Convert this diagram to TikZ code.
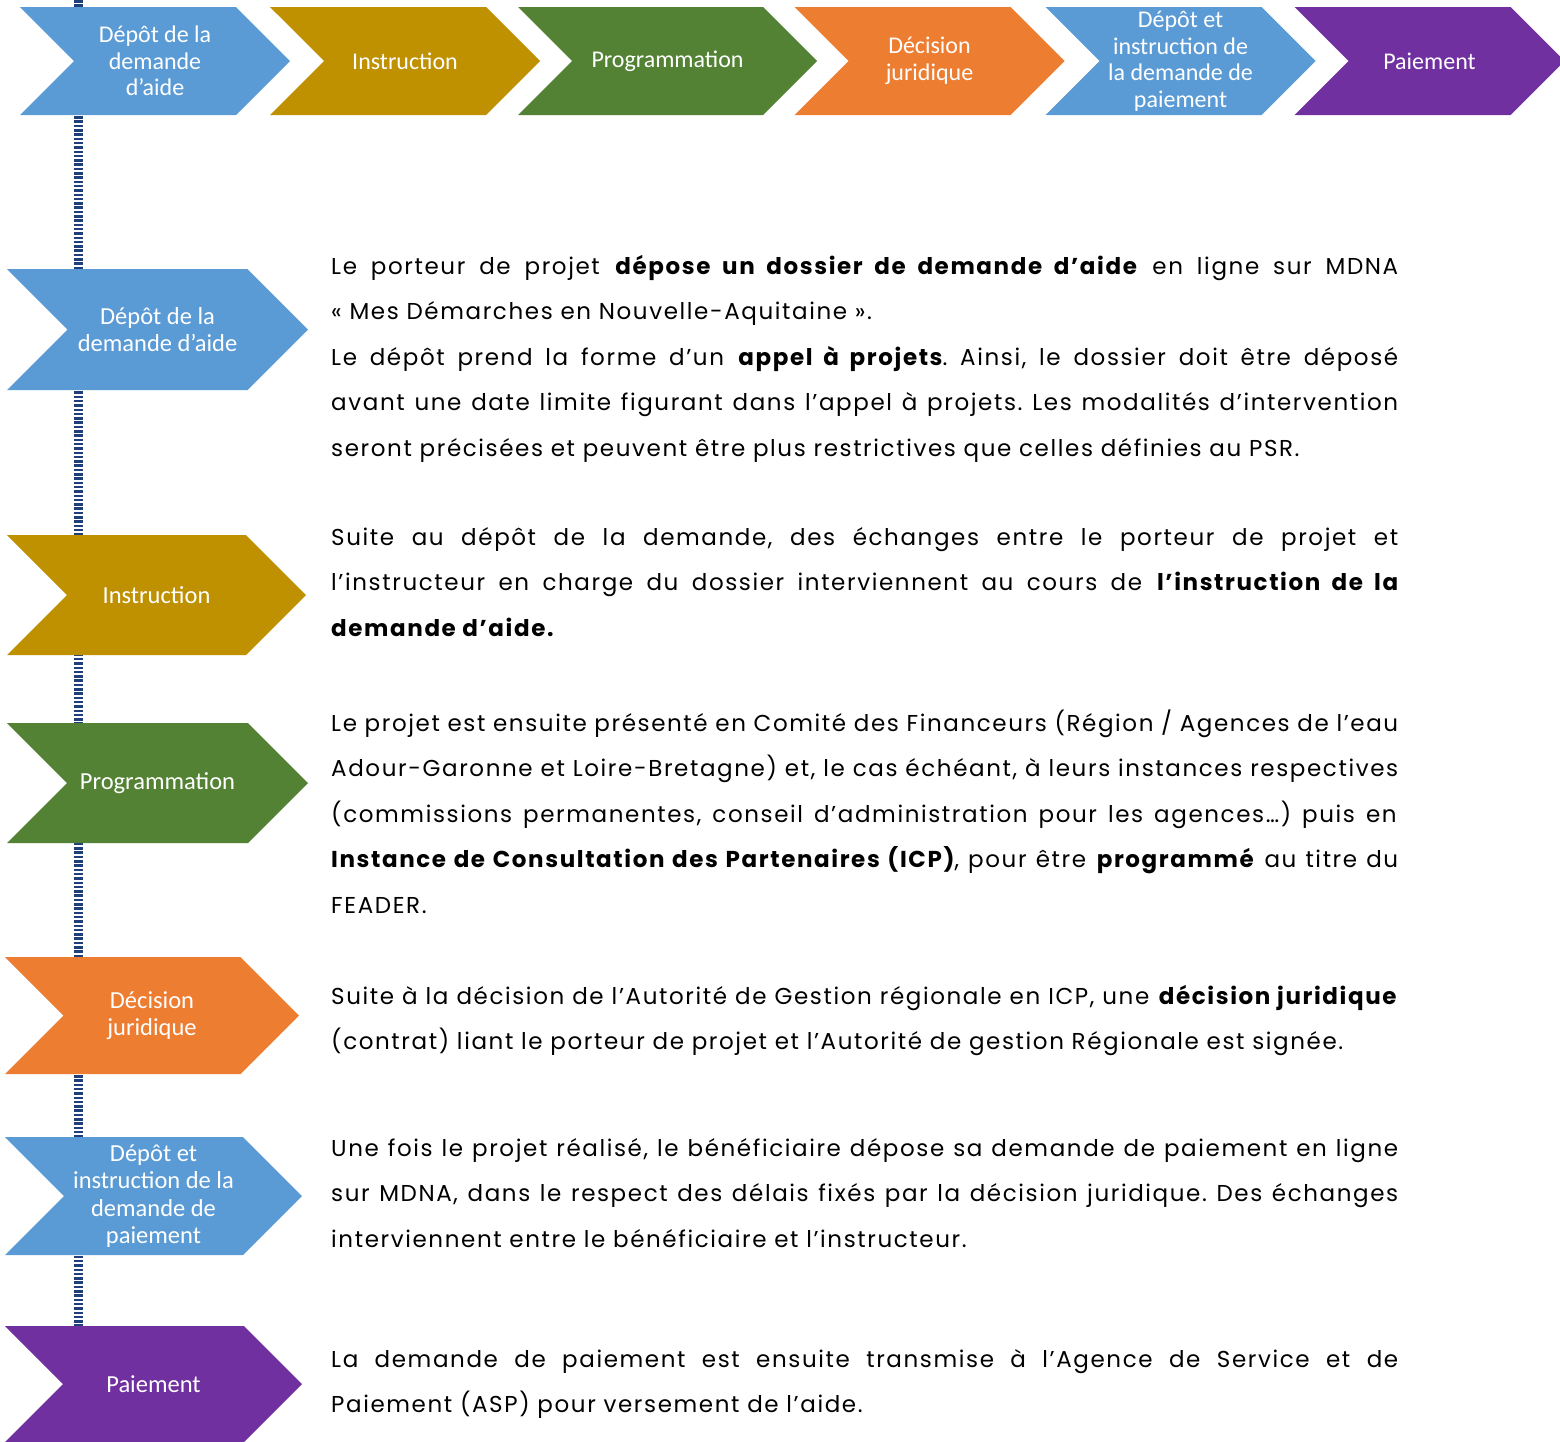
\documentclass[tikz,border=0pt]{standalone}
\usepackage{fontspec}
\setmainfont{Poppins}[LetterSpace=7, WordSpace={1,1,1.6}]
\newfontfamily\labelfont{Carlito}
\usepackage{xcolor}
\usetikzlibrary{shapes.symbols,positioning}

\definecolor{stepblue}{RGB}{91,155,213}
\definecolor{stepgold}{RGB}{191,144,0}
\definecolor{stepgreen}{RGB}{84,130,53}
\definecolor{steporange}{RGB}{237,125,49}
\definecolor{steppurple}{RGB}{112,48,160}
\definecolor{spinenavy}{RGB}{31,63,122}

\newcommand\nohyph{\hyphenpenalty=10000\relax\exhyphenpenalty=10000\relax\frenchspacing}

\tikzset{
  chev/.style={signal, signal from=west, signal to=east, signal pointer angle=90,
    inner sep=0pt, text=white, align=center},
  topchev/.style={chev, minimum width=270pt, minimum height=108pt,
    font=\labelfont\fontsize{24}{26.5}\selectfont},
  sidechev/.style={chev, minimum width=299pt, minimum height=120pt,
    font=\labelfont\fontsize{24.5}{27.2}\selectfont},
  para/.style={anchor=base west, inner sep=0pt, text width=1067pt, align=justify,
    font=\fontsize{23}{45.5}\selectfont\nohyph},
  spine/.style={draw=spinenavy, line width=9pt, dash pattern=on 2.5pt off 1.8pt}
}

\begin{document}
\begin{tikzpicture}[x=1pt, y=-1pt, on grid]
  \useasboundingbox (0,0) rectangle (1560,1441);

  % dotted spine behind the steps
  \coordinate (spinetop) at (78,0);
  \coordinate (spinebot) at (78,1441);
  \draw[spine] (spinetop) -- (spinebot);

  % top row
  \node[topchev, fill=stepblue] (t1) at (155,61) {Dépôt de la\\demande\\d’aide};
  \node[topchev, fill=stepgold, right=250pt of t1] (t2) {Instruction};
  \node[topchev, fill=stepgreen, minimum width=299pt, right=262.5pt of t2] (t3) {Programmation};
  \node[topchev, fill=steporange, right=262pt of t3] (t4) {Décision\\juridique};
  \node[topchev, fill=stepblue, right=251pt of t4] (t5) {Dépôt et\\instruction de\\la demande de\\paiement};
  \node[topchev, fill=steppurple, right=249pt of t5] (t6) {Paiement};

  % left column
  \node[sidechev, fill=stepblue, minimum width=301pt, minimum height=121pt] (s1) at (157.5,329.5) {Dépôt de la\\demande d’aide};
  \node[sidechev, fill=stepgold] (s2) at (156.5,595) {Instruction};
  \node[sidechev, fill=stepgreen, minimum width=301pt] (s3) at (157.5,783) {Programmation};
  \node[sidechev, fill=steporange, minimum width=294pt, minimum height=117pt] (s4) at (152,1015.5) {Décision\\juridique};
  \node[sidechev, fill=stepblue, minimum width=297pt, minimum height=118pt] (s5) at (153.5,1196) {Dépôt et\\instruction de la\\demande de\\paiement};
  \node[sidechev, fill=steppurple, minimum width=297pt, minimum height=116pt] (s6) at (153.5,1384) {Paiement};

  % texts
  \node[para] (p1) at (331,274) {Le porteur de projet \textbf{dépose un dossier de demande d’aide} en ligne sur MDNA\linebreak
    « Mes Démarches en Nouvelle-Aquitaine ».\\
    Le dépôt prend la forme d’un \textbf{appel à projets}. Ainsi, le dossier doit être déposé\linebreak
    avant une date limite figurant dans l’appel à projets. Les modalités d’intervention\linebreak
    seront précisées et peuvent être plus restrictives que celles définies au PSR.};
  \node[para] (p2) at (331,545) {Suite au dépôt de la demande, des échanges entre le porteur de projet et\linebreak
    l’instructeur en charge du dossier interviennent au cours de \textbf{l’instruction de la\linebreak
    demande d’aide.}};
  \node[para] (p3) at (331,731) {Le projet est ensuite présenté en Comité des Financeurs (Région / Agences de l’eau\linebreak
    Adour-Garonne et Loire-Bretagne) et, le cas échéant, à leurs instances respectives\linebreak
    (commissions permanentes, conseil d’administration pour les agences…) puis en\linebreak
    \textbf{Instance de Consultation des Partenaires (ICP)}, pour être \textbf{programmé} au titre du\linebreak
    FEADER.};
  \node[para] (p4) at (331,1004) {Suite à la décision de l’Autorité de Gestion régionale en ICP, une \textbf{décision juridique}\linebreak
    (contrat) liant le porteur de projet et l’Autorité de gestion Régionale est signée.};
  \node[para] (p5) at (331,1156) {Une fois le projet réalisé, le bénéficiaire dépose sa demande de paiement en ligne\linebreak
    sur MDNA, dans le respect des délais fixés par la décision juridique. Des échanges\linebreak
    interviennent entre le bénéficiaire et l’instructeur.};
  \node[para] (p6) at (331,1367) {La demande de paiement est ensuite transmise à l’Agence de Service et de\linebreak
    Paiement (ASP) pour versement de l’aide.};
\end{tikzpicture}
\end{document}
